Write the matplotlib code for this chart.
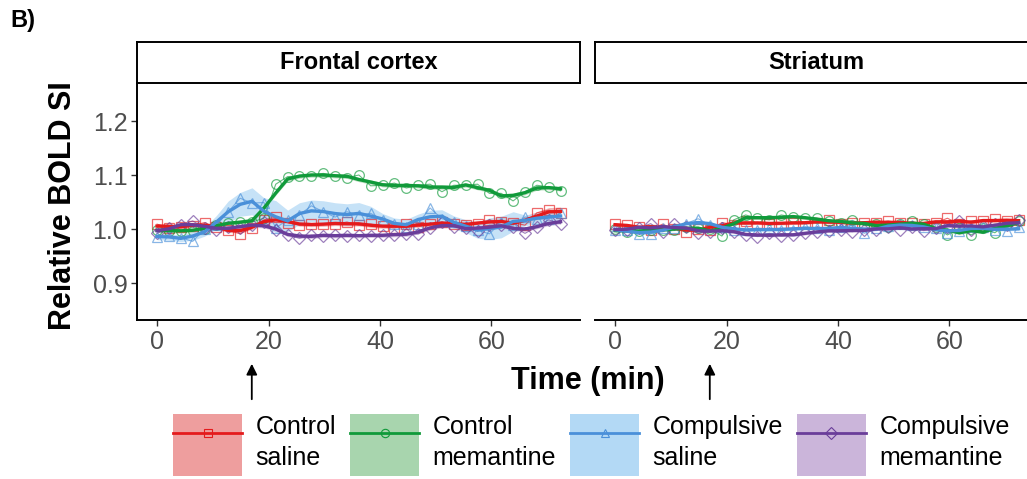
import numpy as np
import pandas as pd
import matplotlib
matplotlib.use('Agg')
import matplotlib.pyplot as plt
from matplotlib.patches import Patch
from matplotlib.lines import Line2D

plt.rcParams['font.family'] = ['Liberation Sans', 'DejaVu Sans']

# ── Data ─────────────────────────────────────────────────────────────────────
time_min = np.arange(35) * 2.13

regions = ['Frontal cortex', 'Striatum']
groups = ['Control\nsaline', 'Control\nmemantine', 'Compulsive\nsaline', 'Compulsive\nmemantine']

fc_ctrl_sal = [1.009, 1.002, 1.004, 1.006, 1.012, 1.003, 0.998, 0.991, 1.002, 1.017,
               1.022, 1.012, 1.007, 1.009, 1.009, 1.009, 1.013, 1.007, 1.009, 1.005,
               1.002, 1.009, 1.004, 1.010, 1.013, 1.010, 1.007, 1.009, 1.017, 1.013,
               1.012, 1.007, 1.030, 1.035, 1.030]
fc_ctrl_mem = [0.998, 0.997, 0.996, 0.997, 1.000, 1.007, 1.012, 1.013, 1.013, 1.020,
               1.083, 1.097, 1.098, 1.099, 1.103, 1.098, 1.095, 1.100, 1.080, 1.081,
               1.085, 1.076, 1.081, 1.083, 1.069, 1.081, 1.081, 1.083, 1.066, 1.066,
               1.052, 1.069, 1.081, 1.078, 1.071]
fc_comp_sal = [0.985, 0.987, 0.984, 0.977, 1.000, 1.007, 1.032, 1.057, 1.048, 1.049,
               1.002, 1.017, 1.026, 1.043, 1.032, 1.022, 1.032, 1.026, 1.029, 1.017,
               1.010, 1.004, 1.010, 1.039, 1.019, 1.013, 1.005, 0.998, 0.991, 1.013,
               1.007, 1.022, 1.019, 1.019, 1.029]
fc_comp_mem = [0.992, 1.002, 1.007, 1.015, 1.002, 0.998, 1.004, 1.002, 1.007, 1.013,
               0.998, 0.989, 0.983, 0.989, 0.987, 0.989, 0.987, 0.989, 0.987, 0.989,
               0.989, 0.991, 0.991, 1.002, 1.013, 1.004, 1.002, 0.996, 1.007, 1.007,
               1.004, 0.992, 1.004, 1.017, 1.010]

st_ctrl_sal = [1.009, 1.007, 1.004, 0.999, 1.009, 1.000, 0.995, 1.000, 0.998, 1.012,
               1.008, 1.014, 1.011, 1.009, 1.011, 1.012, 1.011, 1.012, 1.017, 1.009,
               1.012, 1.012, 1.011, 1.015, 1.011, 1.011, 1.009, 1.011, 1.020, 1.009,
               1.015, 1.014, 1.018, 1.015, 1.016]
st_ctrl_mem = [1.000, 0.994, 0.997, 0.998, 0.998, 0.999, 1.003, 1.002, 1.000, 0.987,
               1.017, 1.026, 1.020, 1.017, 1.026, 1.022, 1.021, 1.020, 1.014, 1.012,
               1.016, 1.006, 1.009, 1.004, 1.009, 1.014, 1.009, 1.004, 0.989, 1.001,
               0.989, 1.001, 0.993, 1.010, 1.014]
st_comp_sal = [0.999, 0.998, 0.991, 0.991, 1.001, 1.001, 1.010, 1.019, 1.007, 1.004,
               0.999, 0.998, 0.998, 1.001, 0.998, 0.999, 1.004, 1.001, 0.998, 1.004,
               1.007, 0.992, 1.001, 1.006, 1.009, 1.007, 1.004, 1.001, 0.992, 0.997,
               1.003, 1.003, 0.998, 0.997, 1.004]
st_comp_mem = [0.999, 0.999, 1.001, 1.010, 0.995, 1.009, 1.004, 0.992, 0.995, 1.001,
               0.995, 0.989, 0.986, 0.992, 0.987, 0.989, 0.992, 0.995, 0.997, 0.998,
               0.995, 0.999, 0.998, 1.004, 0.999, 1.004, 0.997, 1.001, 1.004, 1.014,
               0.998, 1.005, 1.009, 1.007, 1.016]

# half-widths of the shaded bands
fc_se_ctrl_sal = [0.004] * 29 + [0.008] * 6
fc_se_ctrl_mem = [0.004] * 35
fc_se_comp_sal = [0.006, 0.006, 0.006, 0.008, 0.008, 0.012, 0.020, 0.022, 0.025, 0.025,
                  0.030, 0.020, 0.020, 0.020, 0.020, 0.020, 0.020, 0.020, 0.018, 0.010,
                  0.010, 0.010, 0.010, 0.012, 0.012, 0.012, 0.012, 0.015, 0.020, 0.020,
                  0.018, 0.010, 0.010, 0.010, 0.010]
fc_se_comp_mem = [0.004] * 35
st_se = [0.003] * 35

series = {
    'Frontal cortex': [(fc_ctrl_sal, fc_se_ctrl_sal), (fc_ctrl_mem, fc_se_ctrl_mem),
                       (fc_comp_sal, fc_se_comp_sal), (fc_comp_mem, fc_se_comp_mem)],
    'Striatum': [(st_ctrl_sal, st_se), (st_ctrl_mem, st_se),
                 (st_comp_sal, st_se), (st_comp_mem, st_se)],
}

line_cols = ['#E41A1C', '#109A3A', '#4A90D9', '#6A3D9A']
fill_cols = ['#EE9E9E', '#A8D5AE', '#B3D9F5', '#CBB5DA']
markers = ['s', 'o', '^', 'D']
inject_t = 17

# ── Figure ───────────────────────────────────────────────────────────────────
W, H = 1027, 479
fig = plt.figure(figsize=(W / 100, H / 100), dpi=100)

panel_left = [137, 595]
for pi, reg in enumerate(regions):
    x0 = panel_left[pi]
    ax = fig.add_axes([x0 / W, 1 - 320 / H, 443 / W, 237 / H])
    for gi, (vals, se) in enumerate(series[reg]):
        smooth = pd.Series(vals).rolling(3, center=True, min_periods=1).mean().values
        se = np.asarray(se)
        ax.fill_between(time_min, smooth - se, smooth + se, color=fill_cols[gi],
                        alpha=0.75, lw=0, zorder=1 + gi)
    for gi, (vals, se) in enumerate(series[reg]):
        smooth = pd.Series(vals).rolling(3, center=True, min_periods=1).mean().values
        ax.plot(time_min, vals, color=line_cols[gi], lw=0.8, alpha=0.65,
                marker=markers[gi], ms=7 if markers[gi] != 'D' else 6,
                mfc='none', mew=0.9, zorder=5 + gi)
        ax.plot(time_min, smooth, color=line_cols[gi], lw=2.4, zorder=10 + gi)

    ax.set_xlim(-3.6, 75.9)
    ax.set_ylim(0.8315, 1.2704)
    ax.set_xticks([0, 20, 40, 60])
    ax.set_yticks([0.9, 1.0, 1.1, 1.2])
    ax.set_yticklabels(['0.9', '1.0', '1.1', '1.2'])
    ax.tick_params(direction='out', length=4, width=1, color='#333333',
                   labelsize=18, labelcolor='#4D4D4D', pad=3)
    for s in ['top', 'right']:
        ax.spines[s].set_visible(False)
    ax.spines['bottom'].set_linewidth(1.4)
    ax.spines['left'].set_linewidth(1.4)
    if pi == 1:
        ax.spines['left'].set_visible(False)
        ax.tick_params(axis='y', left=False, labelleft=False)

    # facet strip
    sax = fig.add_axes([x0 / W, 1 - 83 / H, 443 / W, 41 / H])
    sax.set_xticks([])
    sax.set_yticks([])
    for s in sax.spines.values():
        s.set_linewidth(1.4)
    sax.text(0.5, 0.5, reg, ha='center', va='center', fontsize=17,
             fontweight='bold', transform=sax.transAxes)

    # injection arrow
    ax.annotate('', xy=(inject_t, 1 - 361 / H), xytext=(inject_t, 1 - 402 / H),
                xycoords=('data', 'figure fraction'),
                textcoords=('data', 'figure fraction'),
                arrowprops=dict(arrowstyle='-|>', color='black', lw=1.3,
                                mutation_scale=16),
                annotation_clip=False)

fig.text(63 / W, 1 - 206 / H, 'Relative BOLD SI', rotation=90, ha='center',
         va='center', fontsize=22, fontweight='bold')
fig.text(588 / W, 1 - 381 / H, 'Time (min)', ha='center', va='center',
         fontsize=22, fontweight='bold')
fig.text(10 / W, 1 - 20 / H, 'B)', ha='left', va='center', fontsize=17,
         fontweight='bold')

handles = []
for gi in range(4):
    handles.append((Patch(facecolor=fill_cols[gi], edgecolor='none'),
                    Line2D([], [], color=line_cols[gi], lw=2, marker=markers[gi],
                           ms=6, mfc='none', mew=0.8)))
leg = fig.legend(handles, groups, loc='center left',
                 bbox_to_anchor=(173 / W, 1 - 445 / H), ncol=4, frameon=False,
                 fontsize=18, handlelength=2.76, handleheight=3.44,
                 handletextpad=0.55, columnspacing=0.55, borderpad=0,
                 borderaxespad=0, labelspacing=0)
for t in leg.get_texts():
    t.set_linespacing(1.36)

fig.savefig('out.png', dpi=100)
